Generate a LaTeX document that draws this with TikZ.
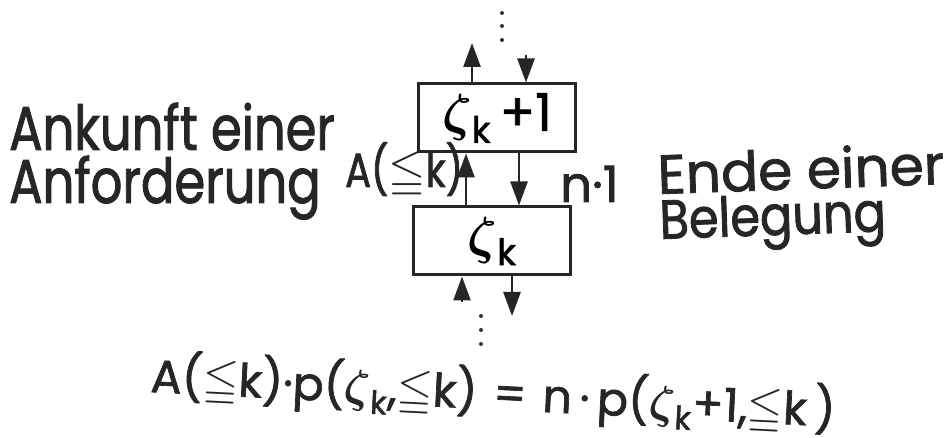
\RequirePackage{fix-cm}
\documentclass[tikz,border=0pt]{standalone}
\usepackage{amsmath,amssymb}
\DeclareFontFamily{U}{msa}{}
\DeclareFontShape{U}{msa}{m}{n}{<-> msam10}{}
\usepackage{fontspec}
\setmainfont{Poppins}
\newfontfamily\hand[FakeBold=1.5]{Poppins}
\newfontfamily\handc[FakeStretch=0.8,FakeBold=1.5]{Poppins}
\newfontfamily\handb[FakeStretch=0.87,FakeBold=1.5]{Poppins}
\usetikzlibrary{arrows.meta}
\tikzset{
  box/.style={draw=black!85,line width=3pt,minimum width=157pt,minimum height=68pt,inner sep=0pt},
  arr/.style={draw=black!85,line width=2.6pt,-{Triangle[length=24pt,width=17pt]}},
  dotmark/.style={circle,fill=black!80,inner sep=0pt,minimum size=4pt},
  txt/.style={inner sep=0pt,text=black!85}
}
\newcommand{\zk}{$\boldsymbol{\zeta}_{\text{k}}$}
\newcommand{\lqq}{$\leqq$}
\begin{document}
\begin{tikzpicture}[x=1pt,y=-1pt]
\useasboundingbox[fill=white] (0,0) rectangle (951,438);
% boxes
\node[box] (top) at (497,118) {\fontsize{52}{54}\selectfont\hand \zk\,+1};
\node[box] (bot) at (492,241) {\fontsize{52}{54}\selectfont\hand \zk};
% guide coordinates
\coordinate (ua) at (472,43);
\coordinate (da) at (526,55);
\coordinate (ub) at (466,0);
\coordinate (db) at (519,0);
\coordinate (uc) at (462,302);
\coordinate (dc) at (512,316);
% arrows
\draw[arr] (top.north -| ua) -- (ua);
\draw[arr] (da) -- (top.north -| da);
\draw[arr] (bot.north -| ub) -- (top.south -| ub);
\draw[arr] (top.south -| db) -- (bot.north -| db);
\draw[arr] (uc) -- (bot.south -| uc);
\draw[arr] (bot.south -| dc) -- (dc);
% dots
\node[dotmark] (t1) at (502,13) {};
\node[dotmark] (t2) at (502,26) {};
\node[dotmark] (t3) at (502,40) {};
\node[dotmark] (b1) at (481,316) {};
\node[dotmark] (b2) at (481,330) {};
\node[dotmark] (b3) at (481,344) {};
% labels
\node[txt,anchor=base west] (ank1) at (9,150) {\fontsize{62}{62}\selectfont\handc Ankunft einer};
\node[txt,anchor=base west] (ank2) at (9,203) {\fontsize{62}{62}\selectfont\handc Anforderung};
\node[txt,anchor=base west] (ak) at (345,187) {\fontsize{48}{48}\selectfont\handc A(\lqq k)};
\node[txt,anchor=base west] (n1) at (560,202) {\fontsize{50}{50}\selectfont\hand n·1};
\node[txt,anchor=base west,rotate=2] (ende1) at (658,194) {\fontsize{55}{55}\selectfont\hand Ende einer};
\node[txt,anchor=base west,rotate=2] (ende2) at (660,239) {\fontsize{55}{55}\selectfont\handb Belegung};
% equation
\node[txt,anchor=base west,rotate=-2.9] (eq) at (150,392) {\fontsize{46}{46}\selectfont\hand A(\lqq k)·p(\zk,\lqq k)\hspace{0.35em}=\hspace{0.35em}n\,·\,p(\zk+1,\lqq k\,)};
\end{tikzpicture}
\end{document}
